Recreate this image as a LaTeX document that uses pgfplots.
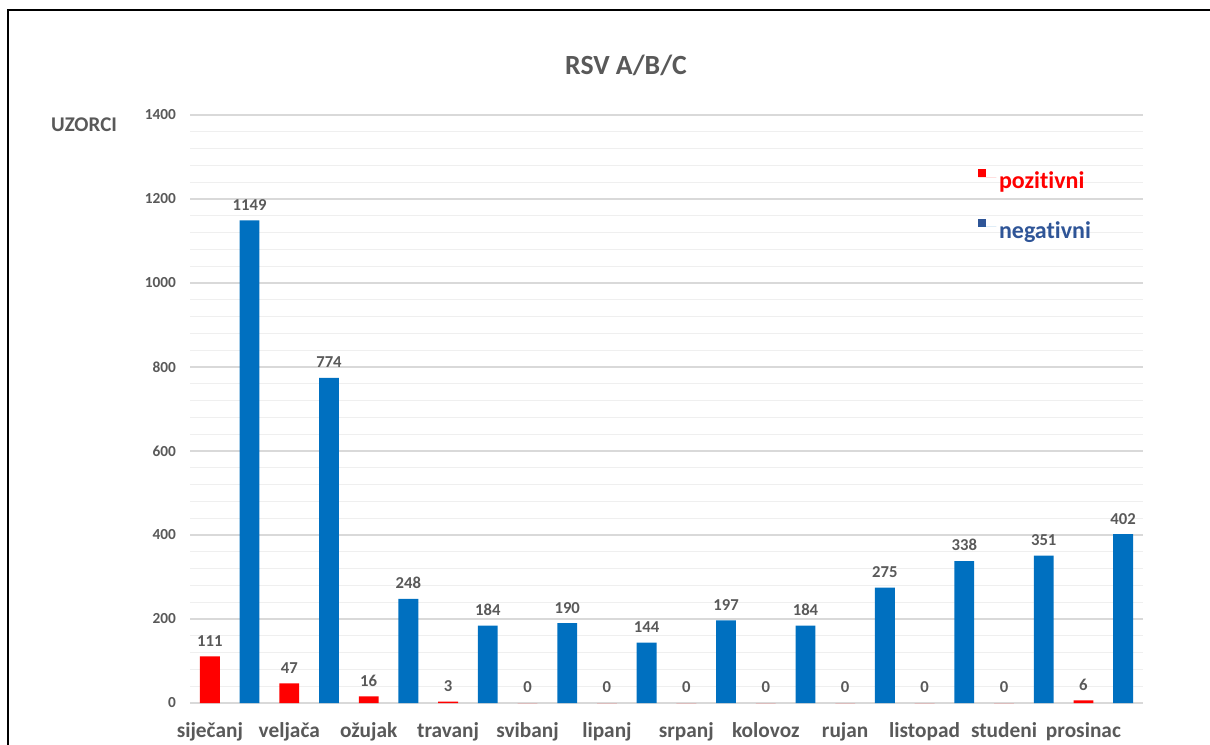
\documentclass[border=0pt]{standalone}
\usepackage{pgfplots}
\pgfplotsset{compat=1.18}
\usepackage{fontspec}
\setmainfont[Ligatures=NoCommon]{Carlito}
\definecolor{txt}{HTML}{595959}
\definecolor{barblue}{HTML}{0070C0}
\definecolor{legblue}{HTML}{2F5597}
\definecolor{gridmaj}{HTML}{D9D9D9}
\definecolor{gridmin}{HTML}{EFEFEF}
\begin{document}
\begin{tikzpicture}[x=0.75pt,y=0.75pt]
\useasboundingbox (0,0) rectangle (1210,744);
\draw[line width=1.6pt] (8,-5) -- (8,734) -- (1215,734);
\node[font=\bfseries\fontsize{20.8}{24}\selectfont, text=txt] at (626,679) {RSV A/B/C};
\node[font=\bfseries\fontsize{15.7}{18}\selectfont, text=txt] at (84,619) {UZORCI};
\begin{axis}[
  at={(142.5pt,30.75pt)}, anchor=south west,
  scale only axis, width=714.75pt, height=441pt,
  xmin=-0.5, xmax=11.5, ymin=0, ymax=1400,
  ytick={0,200,...,1400}, minor y tick num=4,
  xtick={-0.25,0.75,...,10.75},
  xticklabels={siječanj,veljača,ožujak,travanj,svibanj,lipanj,srpanj,kolovoz,rujan,listopad,studeni,prosinac},
  axis x line*=bottom, axis y line*=left,
  x axis line style={-, draw=gridmaj, line width=1pt},
  y axis line style={draw=none},
  major tick length=0pt, minor tick length=0pt,
  ymajorgrids, yminorgrids,
  major grid style={gridmaj, line width=0.9pt},
  minor grid style={gridmin, line width=0.9pt},
  xticklabel style={font=\bfseries\fontsize{16}{18}\selectfont, text=txt, yshift=-11pt},
  yticklabel style={font=\bfseries\fontsize{11.5}{13}\selectfont, text=txt, xshift=-7pt},
  /pgf/number format/assume math mode=true,
  /pgf/number format/1000 sep={},
  ybar, bar width=0.25, bar shift=0pt,
  nodes near coords,
  every node near coord/.append style={font=\bfseries\fontsize{12.5}{14}\selectfont, text=txt, yshift=4pt},
  legend style={draw=none, fill=none, at={(0.8228,0.913)}, anchor=north west, row sep=19pt, font=\bfseries\fontsize{18}{20}\selectfont},
  legend cell align=left,
  clip=false,
]
\addplot[fill=red, draw=none, legend image code/.code={\fill[red] (0pt,3pt) rectangle (6pt,9pt); \path (0pt,3pt) -- (13.5pt,3pt);}]
 coordinates {(-0.25,111) (0.75,47) (1.75,16) (2.75,3) (3.75,0) (4.75,0) (5.75,0) (6.75,0) (7.75,0) (8.75,0) (9.75,0) (10.75,6)};
\addlegendentry{\textcolor{red}{pozitivni}}
\addplot[fill=barblue, draw=none, legend image code/.code={\fill[legblue] (0pt,3pt) rectangle (6pt,9pt); \path (0pt,3pt) -- (13.5pt,3pt);}]
 coordinates {(0.25,1149) (1.25,774) (2.25,248) (3.25,184) (4.25,190) (5.25,144) (6.25,197) (7.25,184) (8.25,275) (9.25,338) (10.25,351) (11.25,402)};
\addlegendentry{\textcolor{legblue}{negativni}}
\end{axis}
\end{tikzpicture}
\end{document}
